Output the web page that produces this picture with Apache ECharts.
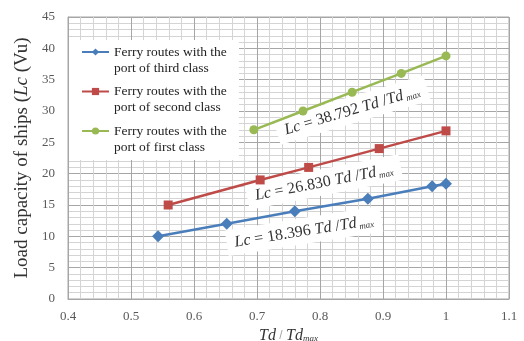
<!DOCTYPE html>
<html>
<head>
<meta charset="utf-8">
<script src="https://cdn.jsdelivr.net/npm/echarts@6/dist/echarts.min.js"></script>
<style>html,body{margin:0;padding:0;background:#fff;}#c{width:524px;height:341px;}</style>
</head>
<body>
<div id="c"></div>
<script>
const seriesNames = [
  'Ferry routes with the\nport of third class',
  'Ferry routes with the\nport of second class',
  'Ferry routes with the\nport of first class'
];
const thirdX = [0.543, 0.652, 0.760, 0.876, 0.978, 1.0];
const thirdY = [10, 12, 14, 16, 18, 18.4];
const secondX = [0.559, 0.705, 0.782, 0.894, 1.0];
const secondY = [15, 19, 21, 24, 26.83];
const firstX = [0.695, 0.773, 0.851, 0.929, 1.0];
const firstY = [27, 30, 33, 36, 38.79];
const equations = ['18.396', '26.830', '38.792'];

const serif = '"Liberation Serif", "DejaVu Serif", serif';
const pair = (xs, ys) => xs.map((x, i) => [x, ys[i]]);

const chart = echarts.init(document.getElementById('c'));

function eqText(v) {
  return '{i|Lc} = ' + v + ' {i|Td} /{i|Td}{s| max}';
}
const eqRich = {
  i: { fontFamily: serif, fontStyle: 'italic', fontSize: 16, fill: '#333' },
  s: { fontFamily: serif, fontStyle: 'italic', fontSize: 9, fill: '#333', padding: [8, 0, 0, 0] }
};
function eqGraphic(v, x, y, deg) {
  return {
    type: 'text', x: x, y: y, rotation: deg * Math.PI / 180, z: 3,
    style: {
      text: eqText(v), fontFamily: serif, fontSize: 16, fill: '#333',
      align: 'center', verticalAlign: 'middle',
      backgroundColor: '#fff', padding: [5, 8, 4, 8], rich: eqRich
    }
  };
}

chart.setOption({
  animation: false,
  backgroundColor: '#fff',
  grid: { left: 68, right: 15, top: 17, bottom: 42, show: true, borderColor: '#a6a6a6', borderWidth: 1,
          containLabel: false, outerBoundsMode: 'none' },
  xAxis: {
    type: 'value', min: 0.4, max: 1.1, interval: 0.1,
    name: '{i|Td} / {i|Td}{s|max}', nameLocation: 'middle', nameGap: 19,
    nameTextStyle: { rich: {
      i: { fontFamily: serif, fontStyle: 'italic', fontSize: 16, color: '#333' },
      s: { fontFamily: serif, fontStyle: 'italic', fontSize: 9, color: '#333', padding: [5, 0, 0, 0] }
    } },
    axisLine: { lineStyle: { color: '#a6a6a6' } },
    axisTick: { show: false },
    axisLabel: { fontFamily: serif, fontSize: 13, color: '#595959', margin: 11, formatter: v => String(+v.toFixed(1)) },
    splitLine: { show: true, lineStyle: { color: '#a6a6a6', width: 1 } },
    minorTick: { show: false, splitNumber: 5 },
    minorSplitLine: { show: true, lineStyle: { color: '#d4d4d4', width: 1 } }
  },
  yAxis: {
    type: 'value', min: 0, max: 45, interval: 5,
    name: '{n|Load capacity of ships (}{i|Lc}{n| (Vu)}', nameLocation: 'middle', nameGap: 36,
    nameTextStyle: { rich: {
      n: { fontFamily: serif, fontSize: 19, color: '#333' },
      i: { fontFamily: serif, fontStyle: 'italic', fontSize: 19, color: '#333' }
    } },
    axisLine: { show: true, lineStyle: { color: '#a6a6a6' } },
    axisTick: { show: false },
    axisLabel: { fontFamily: serif, fontSize: 13, color: '#595959', margin: 13 },
    splitLine: { show: true, lineStyle: { color: '#a6a6a6', width: 1 } },
    minorTick: { show: false, splitNumber: 5 },
    minorSplitLine: { show: true, lineStyle: { color: '#d4d4d4', width: 1 } }
  },
  legend: {
    orient: 'vertical', left: 81, top: 28, padding: 0,
    itemWidth: 27, itemHeight: 9, itemGap: -8.5,
    formatter: name => '\n' + name,
    textStyle: { fontFamily: serif, fontSize: 13.5, color: '#222', lineHeight: 16 },
    data: seriesNames
  },
  graphic: [
    { type: 'rect', shape: { x: 69, y: 40, width: 170, height: 120 }, style: { fill: '#fff' }, z: 1 },
    eqGraphic(equations[2], 352, 110, 16.5),
    eqGraphic(equations[1], 324, 182, 11),
    eqGraphic(equations[0], 304, 231, 9)
  ],
  series: [
    { name: seriesNames[0], type: 'line', data: pair(thirdX, thirdY), symbol: 'diamond', symbolSize: 12,
      lineStyle: { color: '#4a7ebb', width: 2.5 }, itemStyle: { color: '#4a7ebb' }, z: 5 },
    { name: seriesNames[1], type: 'line', data: pair(secondX, secondY), symbol: 'rect', symbolSize: 9,
      lineStyle: { color: '#be4b48', width: 2.5 }, itemStyle: { color: '#be4b48' }, z: 5 },
    { name: seriesNames[2], type: 'line', data: pair(firstX, firstY), symbol: 'circle', symbolSize: 9,
      lineStyle: { color: '#98b954', width: 2.5 }, itemStyle: { color: '#98b954' }, z: 5 }
  ]
});
</script>
</body>
</html>
